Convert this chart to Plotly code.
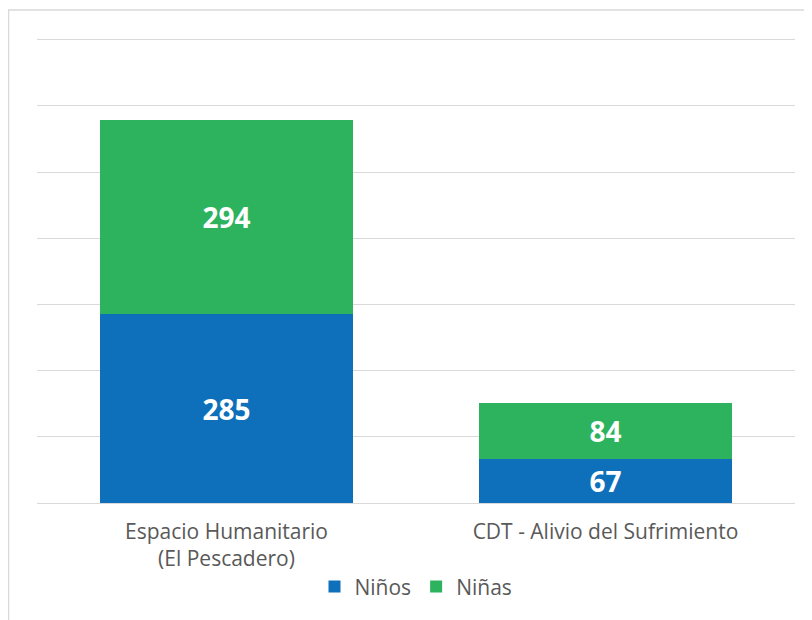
import plotly.graph_objects as go

categories = ["Espacio Humanitario<br>(El Pescadero)", "CDT - Alivio del Sufrimiento"]
ninos = [285, 67]
ninas = [294, 84]
series_names = ["Niños", "Niñas"]
colors = ["#0E70BA", "#2DB35E"]

fig = go.Figure()
for name, vals, col in zip(series_names, [ninos, ninas], colors):
    fig.add_trace(go.Bar(
        x=categories, y=vals, name=name, marker=dict(color=col, line=dict(width=0)),
        text=vals, textposition="inside", insidetextanchor="middle",
        textfont=dict(color="white", size=28, family="Open Sans", weight="bold"),
        textangle=0,
    ))

# page has an 8px body margin; figure placed at (8,8)
W, H = 804, 612
T, B = 25, 117
fig.update_layout(
    barmode="stack",
    width=W, height=H,
    margin=dict(l=29, r=17, t=T, b=B, autoexpand=False),
    paper_bgcolor="white", plot_bgcolor="white",
    bargap=0.333,
    font=dict(family="Open Sans", color="#595959", size=21),
    showlegend=True,
    legend=dict(orientation="h", x=0.5, xanchor="center", y=-0.135, yanchor="top",
                font=dict(size=21, color="#595959"), traceorder="normal",
                itemwidth=30, tracegroupgap=0),
)
fig.update_yaxes(range=[0, 710], tickvals=[0, 100, 200, 300, 400, 500, 600, 700],
                 showticklabels=False, showgrid=True,
                 gridcolor="#D9D9D9", gridwidth=1.3, zeroline=True, zerolinecolor="#D9D9D9",
                 zerolinewidth=1.3, fixedrange=True)
fig.update_xaxes(showline=False, ticks="", tickfont=dict(size=21, color="#595959"),
                 ticklabelstandoff=14, fixedrange=True)

plot_h = H - T - B
fig.add_shape(type="rect", xref="paper", yref="paper",
              x0=(0.5 - 29) / 758, x1=(830 - 29) / 758,
              y0=((H - B) - 640) / plot_h, y1=((H - B) - 2) / plot_h,
              line=dict(color="#D9D9D9", width=1.5), fillcolor="rgba(0,0,0,0)", layer="below")

fig.write_html("out.html")
